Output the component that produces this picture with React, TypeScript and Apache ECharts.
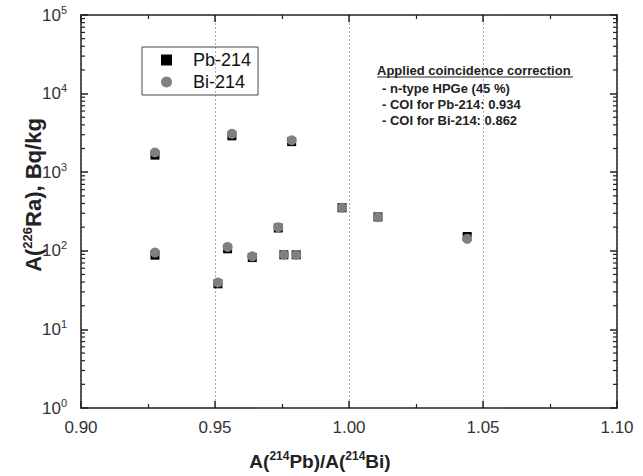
import React, { useEffect, useRef } from "react";
import * as echarts from "echarts";

const ratio = [0.9276, 0.9563, 0.9786, 0.9276, 0.9511, 0.9547, 0.9639, 0.9736, 0.9757, 0.9803, 0.9974, 1.0108, 1.0441];
const pbValues = [1650, 2900, 2450, 88, 38, 106, 82, 195, 89, 89, 353, 270, 152];
const biValues = [1780, 3080, 2550, 95, 39.5, 112, 85, 200, 89, 89, 353, 268, 142];
const xTicks = [0.9, 0.95, 1.0, 1.05, 1.1];
const yMinorTicks: number[] = [];
for (let e = 0; e < 5; e++) for (let m = 2; m <= 9; m++) yMinorTicks.push(m * Math.pow(10, e));
const noteTitle = "Applied coincidence correction";
const noteLines = ["- n-type HPGe (45 %)", "- COI for Pb-214: 0.934", "- COI for Bi-214: 0.862"];

const FONT = "Arial, 'Liberation Sans', sans-serif";

export default function App() {
  const ref = useRef<HTMLDivElement>(null);
  useEffect(() => {
    if (!ref.current) return;
    const chart = echarts.init(ref.current, null, { renderer: "svg" });
    const axisLine = { show: true, lineStyle: { color: "#222", width: 1.5 } };
    const tick = { show: true, inside: true, length: 7, lineStyle: { color: "#222", width: 1.5 } };
    const minor = { show: true, splitNumber: 2, length: 4, lineStyle: { color: "#222", width: 1.2 } };
    const minorTickSeries = (xEdge: number, offset: number) => ({
      type: "scatter",
      silent: true,
      clip: false,
      symbol: "rect",
      symbolSize: [4, 1.2],
      symbolOffset: [offset, 0],
      itemStyle: { color: "#222", opacity: 1 },
      data: yMinorTicks.map((v) => [xEdge, v]),
      z: 2,
    });
    const option: any = {
      animation: false,
      backgroundColor: "#fff",
      grid: { left: 81, right: 26, top: 15, bottom: 68 },
      legend: {
        orient: "vertical",
        left: 142,
        top: 47,
        padding: [3, 7, 3, 19],
        itemGap: 2,
        itemWidth: 11,
        itemHeight: 11,
        borderColor: "#444",
        borderWidth: 1,
        textStyle: { fontSize: 18, fontFamily: FONT, color: "#111", lineHeight: 20, padding: [0, 0, 0, 16] },
        data: ["Pb-214", "Bi-214"],
      },
      xAxis: [
        {
          type: "value",
          min: 0.9,
          max: 1.1,
          interval: 0.05,
          axisLine,
          axisTick: tick,
          minorTick: minor,
          axisLabel: {
            margin: 11,
            fontSize: 17,
            fontFamily: FONT,
            color: "#333",
            formatter: (v: number) => {
              const t = xTicks.find((x) => Math.abs(x - v) < 1e-6);
              return t !== undefined ? t.toFixed(2) : "";
            },
          },
          splitLine: { show: true, lineStyle: { color: "#aaa", type: [2, 2], width: 1 } },
        },
        {
          type: "value",
          position: "top",
          min: 0.9,
          max: 1.1,
          interval: 0.05,
          axisLine,
          axisTick: tick,
          minorTick: minor,
          axisLabel: { show: false },
          splitLine: { show: false },
        },
      ],
      yAxis: [
        {
          type: "log",
          logBase: 10,
          min: 1,
          max: 100000,
          axisLine,
          axisTick: tick,
          axisLabel: {
            margin: 14,
            fontFamily: FONT,
            formatter: (v: number) => `{b|10}{s|${Math.round(Math.log10(v))}}`,
            rich: {
              b: { fontSize: 17, fontFamily: FONT, color: "#333", lineHeight: 22 },
              s: { fontSize: 11, fontFamily: FONT, color: "#333", verticalAlign: "top", lineHeight: 12 },
            },
          },
          splitLine: { show: false },
        },
        {
          type: "log",
          logBase: 10,
          min: 1,
          max: 100000,
          position: "right",
          axisLine,
          axisTick: tick,
          axisLabel: { show: false },
          splitLine: { show: false },
        },
      ],
      series: [
        minorTickSeries(0.9, 2),
        minorTickSeries(1.1, -2),
        {
          name: "Pb-214",
          type: "scatter",
          symbol: "rect",
          symbolSize: 9,
          itemStyle: { color: "#000", opacity: 1 },
          data: ratio.map((x, i) => [x, pbValues[i]]),
          z: 3,
        },
        {
          name: "Bi-214",
          type: "scatter",
          symbol: "circle",
          symbolSize: 10,
          itemStyle: { color: "#808080", opacity: 1 },
          data: ratio.map((x, i) => [x, biValues[i]]),
          z: 4,
        },
      ],
      graphic: [
        {
          type: "text",
          x: 33,
          y: 195,
          rotation: Math.PI / 2,
          style: {
            text: "{t|A(}{s|226}{t|Ra), Bq/kg}",
            align: "center",
            verticalAlign: "middle",
            rich: {
              t: { fontSize: 22, fontWeight: "bold", fontFamily: FONT, fill: "#222", lineHeight: 24 },
              s: { fontSize: 13, fontWeight: "bold", fontFamily: FONT, fill: "#222", verticalAlign: "top", lineHeight: 12 },
            },
          },
        },
        {
          type: "text",
          x: 320,
          y: 461,
          style: {
            text: "{t|A(}{s|214}{t|Pb)/A(}{s|214}{t|Bi)}",
            align: "center",
            verticalAlign: "middle",
            rich: {
              t: { fontSize: 19, fontWeight: "bold", fontFamily: FONT, fill: "#222", lineHeight: 22 },
              s: { fontSize: 12, fontWeight: "bold", fontFamily: FONT, fill: "#222", verticalAlign: "top", lineHeight: 12 },
            },
          },
        },
        {
          type: "text",
          x: 377,
          y: 70,
          style: {
            text: noteTitle,
            fontSize: 13,
            fontWeight: "bold",
            fontFamily: FONT,
            fill: "#222",
            verticalAlign: "middle",
          },
        },
        {
          type: "line",
          shape: { x1: 377, y1: 77, x2: 573, y2: 77 },
          style: { stroke: "#222", lineWidth: 1 },
        },
        ...noteLines.map((t, i) => ({
          type: "text",
          x: 382,
          y: 88 + i * 16,
          style: {
            text: t,
            fontSize: 13,
            fontWeight: "bold",
            fontFamily: FONT,
            fill: "#222",
            verticalAlign: "middle",
          },
        })),
      ],
    };
    chart.setOption(option);
    return () => chart.dispose();
  }, []);
  return <div ref={ref} style={{ width: 643, height: 476, position: "absolute", left: 0, top: 0 }} />;
}
